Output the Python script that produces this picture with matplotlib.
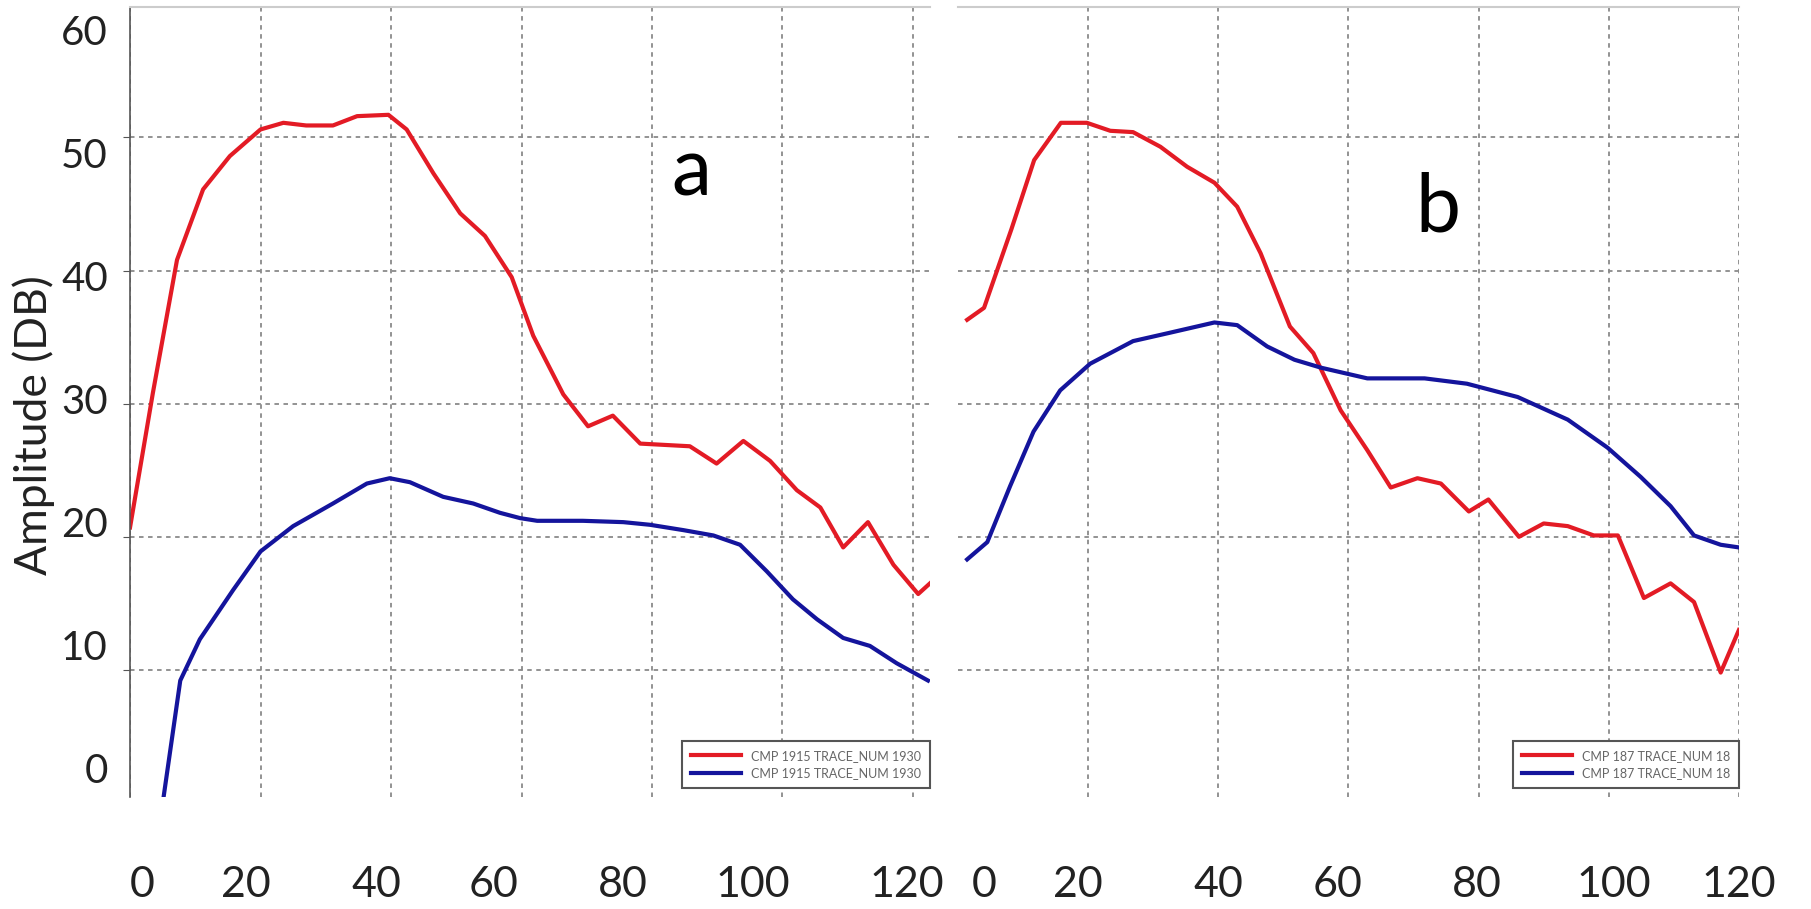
import matplotlib
matplotlib.use("Agg")
import matplotlib.pyplot as plt
from matplotlib.transforms import ScaledTranslation

# panel a
xa_red = [0, 3.5, 7.2, 11.2, 15.3, 20, 23.5, 27, 31.1, 34.8, 39.6, 42.4, 46.5, 50.6, 54.4,
          58.5, 61.8, 66.4, 70.2, 74, 78.2, 85.8, 89.9, 94, 98.1, 102.2, 105.8, 109.3, 113.1,
          117, 120.8, 122.6]
ya_red = [20.7, 30.8, 40.8, 46.1, 48.6, 50.6, 51.1, 50.9, 50.9, 51.6, 51.7, 50.6, 47.3, 44.3, 42.6,
          39.5, 35.1, 30.7, 28.3, 29.1, 27.0, 26.8, 25.5, 27.2, 25.7, 23.5, 22.2, 19.2, 21.1,
          17.9, 15.7, 16.5]
xa_blue = [5.1, 7.7, 10.7, 15.8, 20, 25, 31.1, 36.3, 39.8, 42.9, 48, 52.6, 56.7, 59.8, 62.4,
           69.4, 75.6, 79.7, 84.8, 89.4, 93.5, 97.6, 101.6, 105.3, 109.3, 113.4, 117.5, 122.3]
ya_blue = [0.3, 9.2, 12.3, 16.0, 18.9, 20.8, 22.5, 24.0, 24.4, 24.1, 23.0, 22.5, 21.8, 21.4, 21.2,
           21.2, 21.1, 20.9, 20.5, 20.1, 19.4, 17.4, 15.3, 13.8, 12.4, 11.8, 10.5, 9.2]

# panel b
xb_red = [1.4, 4.0, 8.2, 11.7, 15.8, 19.8, 23.4, 26.9, 31.1, 35.2, 39.4, 42.9, 46.5, 51, 54.6,
          58.8, 62.9, 66.5, 70.6, 74.2, 78.5, 81.5, 86.2, 90, 93.7, 97.7, 101.4, 105.4, 109.5,
          113.1, 117.2, 120]
yb_red = [36.3, 37.2, 43.1, 48.3, 51.1, 51.1, 50.5, 50.4, 49.3, 47.8, 46.6, 44.8, 41.3, 35.8, 33.8,
          29.5, 26.5, 23.7, 24.4, 24.0, 21.9, 22.8, 20.0, 21.0, 20.8, 20.1, 20.1, 15.4, 16.5,
          15.1, 9.8, 13.0]
xb_blue = [1.4, 4.5, 8, 11.6, 15.7, 20.3, 26.9, 32.3, 39.4, 42.9, 47.5, 51.7, 55.8, 62.9, 71.7,
           78.2, 86, 93.7, 99.8, 104.9, 109.5, 113.1, 117.2, 120]
yb_blue = [18.3, 19.6, 23.8, 27.9, 31.0, 33.0, 34.7, 35.3, 36.1, 35.9, 34.3, 33.3, 32.7, 31.9, 31.9,
           31.5, 30.5, 28.8, 26.7, 24.5, 22.3, 20.1, 19.4, 19.2]

labels_a = ["CMP 1915 TRACE_NUM 1930", "CMP 1915 TRACE_NUM 1930"]
labels_b = ["CMP 187 TRACE_NUM 18", "CMP 187 TRACE_NUM 18"]
x_ticks = [0, 20, 40, 60, 80, 100, 120]
y_ticks = [0, 10, 20, 30, 40, 50, 60]

RED = "#e31b25"
BLUE = "#14149c"

plt.rcParams["font.family"] = ["Lato", "DejaVu Sans"]

fig = plt.figure(figsize=(18.11, 9.09), dpi=100)
ax1 = fig.add_axes([0.0718, 0.1232, 0.4417, 0.8691])
ax2 = fig.add_axes([0.5290, 0.1232, 0.4312, 0.8691])


def style(ax, xmax):
    ax.set_xlim(0, xmax)
    ax.set_ylim(0.45, 59.8)
    ax.set_xticks(x_ticks)
    ax.set_yticks(y_ticks[1:6])
    ax.grid(True, color="#8a8a8a", linestyle=(0, (2.5, 2.5)), linewidth=1.3)
    for s in ["right", "bottom", "left"]:
        ax.spines[s].set_visible(False)
    ax.spines["top"].set_color("#cccccc")
    ax.spines["top"].set_linewidth(1.5)
    ax.tick_params(axis="x", length=0, pad=50, labelsize=31, labelcolor="#222222")
    ax.tick_params(axis="y", length=0, labelleft=False)


style(ax1, 122.6)
style(ax2, 120)
ax2.get_xgridlines()[0].set_visible(False)

# x labels in the source sit a little off their grid lines (pixels)
shift_a = [12, -15, -15, -28, -29, -30, -6]
shift_b = [26, -10, 0, -11, -2, 5, 0]
for ax, shifts in ((ax1, shift_a), (ax2, shift_b)):
    for lab, dx in zip(ax.get_xticklabels(), shifts):
        lab.set_transform(lab.get_transform() + ScaledTranslation(dx / 100, 0, fig.dpi_scale_trans))

ax1.spines["left"].set_visible(True)
ax1.spines["left"].set_color("#555555")
ax1.spines["left"].set_linewidth(1.2)
ax1.tick_params(axis="y", length=5, color="#555555", direction="out")

# the y tick labels are also slightly off the grid
sec = ax1.secondary_yaxis("left", functions=(lambda y: (13.31 * y - 35) / 12.3,
                                              lambda v: (12.3 * v + 35) / 13.31))
sec.set_yticks(y_ticks)
sec.tick_params(length=0, pad=16, labelsize=29, labelcolor="#222222")
sec.spines["left"].set_visible(False)

ax1.plot(xa_red, ya_red, color=RED, lw=3, label=labels_a[0])
ax1.plot(xa_blue, ya_blue, color=BLUE, lw=3, label=labels_a[1])
ax2.plot(xb_red, yb_red, color=RED, lw=3, label=labels_b[0])
ax2.plot(xb_blue, yb_blue, color=BLUE, lw=3, label=labels_b[1])

for ax in (ax1, ax2):
    leg = ax.legend(loc="lower right", bbox_to_anchor=(1.0, 0.0114), borderaxespad=0,
                    fontsize=9, handlelength=4, fancybox=False, framealpha=1,
                    edgecolor="#555555", labelspacing=0.45, borderpad=0.7)
    leg.get_frame().set_linewidth(1.5)
    for t in leg.get_texts():
        t.set_color("#666666")

fig.text(691 / 1811, 1 - 196 / 909, "a", fontsize=58, ha="center", va="baseline")
fig.text(1438 / 1811, 1 - 231 / 909, "b", fontsize=58, ha="center", va="baseline")
fig.text(34 / 1811, 1 - 425 / 909, "Amplitude (DB)", fontsize=32, rotation=90,
         ha="center", va="center", color="#222222")

fig.savefig("out.png", dpi=100)
